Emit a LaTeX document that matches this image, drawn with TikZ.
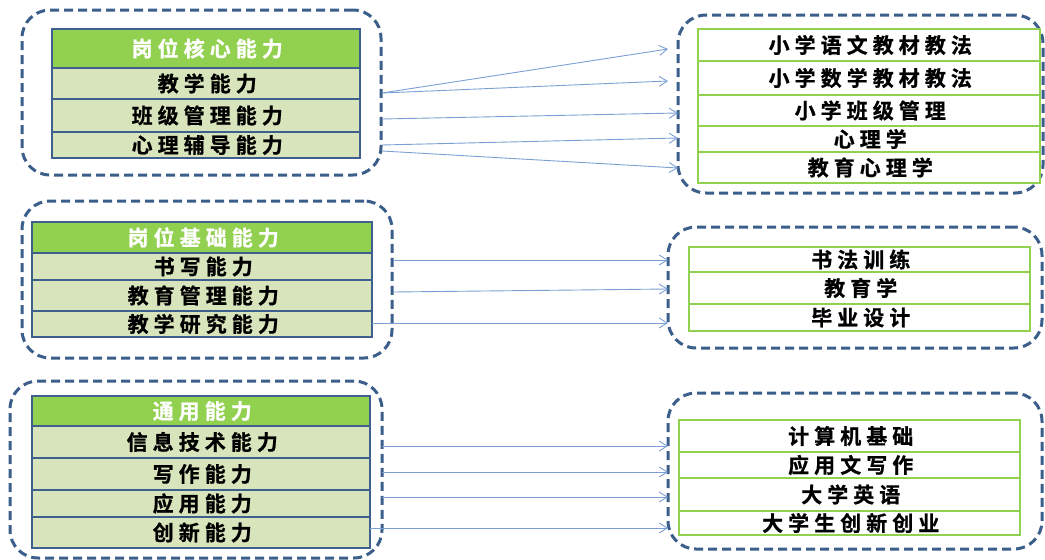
\documentclass[tikz,border=0pt]{standalone}
\usepackage{fontspec}
\usetikzlibrary{arrows.meta}
\newfontfamily\cjk{Noto Sans CJK SC}[LetterSpace=24, BoldFont={Noto Sans CJK SC Bold}, BoldFeatures={FakeBold=0.8}]
\definecolor{dashc}{HTML}{3B5E8A}
\definecolor{lbord}{HTML}{3F5F8F}
\definecolor{hdrg}{HTML}{92D050}
\definecolor{rowf}{HTML}{D8E4BC}
\definecolor{rgreen}{HTML}{92D050}
\definecolor{arrc}{HTML}{7BA0D4}
\tikzset{
  dbox/.style={draw=dashc, line width=3pt, dash pattern=on 9pt off 5pt, rounded corners=28pt, inner sep=0pt},
  lrow/.style={draw=lbord, line width=2.5pt, fill=rowf, inner sep=0pt, font=\cjk\bfseries\fontsize{21}{24}\selectfont},
  hdr/.style={lrow, fill=hdrg, text=white},
  rrow/.style={draw=rgreen, line width=2.5pt, fill=white, inner sep=0pt, font=\cjk\bfseries\fontsize{21}{24}\selectfont},
  arr/.style={draw=arrc, line width=0.9pt, -{Straight Barb[length=8pt,width=10pt]}}
}
\newcommand{\tx}[1]{\kern2.5pt#1}
\begin{document}
\begin{tikzpicture}[x=1pt,y=-1pt]
\useasboundingbox[fill=white] (0,0) rectangle (1045,560);
% dashed group boxes
\node[dbox, minimum width=359pt, minimum height=165pt] (D1L) at (201.5,92.5) {};
\node[dbox, minimum width=365pt, minimum height=178pt] (D1R) at (860.5,104) {};
\node[dbox, minimum width=370pt, minimum height=157pt] (D2L) at (207,279.5) {};
\node[dbox, minimum width=374pt, minimum height=121pt] (D2R) at (855,287.5) {};
\node[dbox, minimum width=372pt, minimum height=177pt] (D3L) at (196,469.5) {};
\node[dbox, minimum width=374pt, minimum height=156pt] (D3R) at (855,471) {};
% group 1 left
\node[hdr,  minimum width=308pt, minimum height=39pt] (a0) at (206,48.5) {\tx{岗位核心能力}};
\node[lrow, minimum width=308pt, minimum height=31pt] (a1) at (206,83.5) {\tx{教学能力}};
\node[lrow, minimum width=308pt, minimum height=33pt] (a2) at (206,115.5) {\tx{班级管理能力}};
\node[lrow, minimum width=308pt, minimum height=26pt] (a3) at (206,145) {\tx{心理辅导能力}};
% group 1 right
\node[rrow, minimum width=342pt, minimum height=32pt] (b1) at (869,45) {\tx{小学语文教材教法}};
\node[rrow, minimum width=342pt, minimum height=34pt] (b2) at (869,78) {\tx{小学数学教材教法}};
\node[rrow, minimum width=342pt, minimum height=31pt] (b3) at (869,110.5) {\tx{小学班级管理}};
\node[rrow, minimum width=342pt, minimum height=26pt] (b4) at (869,139) {\tx{心理学}};
\node[rrow, minimum width=342pt, minimum height=31pt] (b5) at (869,167.5) {\tx{教育心理学}};
% group 2 left
\node[hdr,  minimum width=340pt, minimum height=31pt] (c0) at (202,237.5) {\tx{岗位基础能力}};
\node[lrow, minimum width=340pt, minimum height=27pt] (c1) at (202,266.5) {\tx{书写能力}};
\node[lrow, minimum width=340pt, minimum height=31pt] (c2) at (202,295.5) {\tx{教育管理能力}};
\node[lrow, minimum width=340pt, minimum height=26pt] (c3) at (202,324) {\tx{教学研究能力}};
% group 2 right
\node[rrow, minimum width=341pt, minimum height=25pt] (d1) at (859.5,259.5) {\tx{书法训练}};
\node[rrow, minimum width=341pt, minimum height=32pt] (d2) at (859.5,288) {\tx{教育学}};
\node[rrow, minimum width=341pt, minimum height=27pt] (d3) at (859.5,317.5) {\tx{毕业设计}};
% group 3 left
\node[hdr,  minimum width=338pt, minimum height=30pt] (e0) at (201,411) {\tx{通用能力}};
\node[lrow, minimum width=338pt, minimum height=32pt] (e1) at (201,442) {\tx{信息技术能力}};
\node[lrow, minimum width=338pt, minimum height=32pt] (e2) at (201,474) {\tx{写作能力}};
\node[lrow, minimum width=338pt, minimum height=27pt] (e3) at (201,503.5) {\tx{应用能力}};
\node[lrow, minimum width=338pt, minimum height=31pt] (e4) at (201,532.5) {\tx{创新能力}};
% group 3 right
\node[rrow, minimum width=341pt, minimum height=32pt] (f1) at (849.5,436) {\tx{计算机基础}};
\node[rrow, minimum width=341pt, minimum height=26pt] (f2) at (849.5,465) {\tx{应用文写作}};
\node[rrow, minimum width=341pt, minimum height=33pt] (f3) at (849.5,494.5) {\tx{大学英语}};
\node[rrow, minimum width=341pt, minimum height=24pt] (f4) at (849.5,523) {\tx{大学生创新创业}};
% connector end points
\coordinate (s11) at (382,93);  \coordinate (t11) at (668,49);
\coordinate (t12) at (668,81);
\coordinate (s13) at (382,119); \coordinate (t13) at (678,113);
\coordinate (s14) at (382,145); \coordinate (t14) at (678,138);
\coordinate (s15) at (382,151); \coordinate (t15) at (678,168);
\coordinate (s21) at (393,260); \coordinate (t21) at (668,260);
\coordinate (s22) at (393,292); \coordinate (t22) at (668,289);
\coordinate (s23) at (372,323); \coordinate (t23) at (668,323);
\coordinate (s31) at (382,446); \coordinate (t31) at (668,446);
\coordinate (s32) at (382,472); \coordinate (t32) at (668,472);
\coordinate (s33) at (382,497); \coordinate (t33) at (668,497);
\coordinate (s34) at (370,528); \coordinate (t34) at (668,528);
% connectors
\draw[arr] (s11) -- (t11);
\draw[arr] (s11) -- (t12);
\draw[arr] (s13) -- (t13);
\draw[arr] (s14) -- (t14);
\draw[arr] (s15) -- (t15);
\draw[arr] (s21) -- (t21);
\draw[arr] (s22) -- (t22);
\draw[arr] (s23) -- (t23);
\draw[arr] (s31) -- (t31);
\draw[arr] (s32) -- (t32);
\draw[arr] (s33) -- (t33);
\draw[arr] (s34) -- (t34);
\end{tikzpicture}
\end{document}
